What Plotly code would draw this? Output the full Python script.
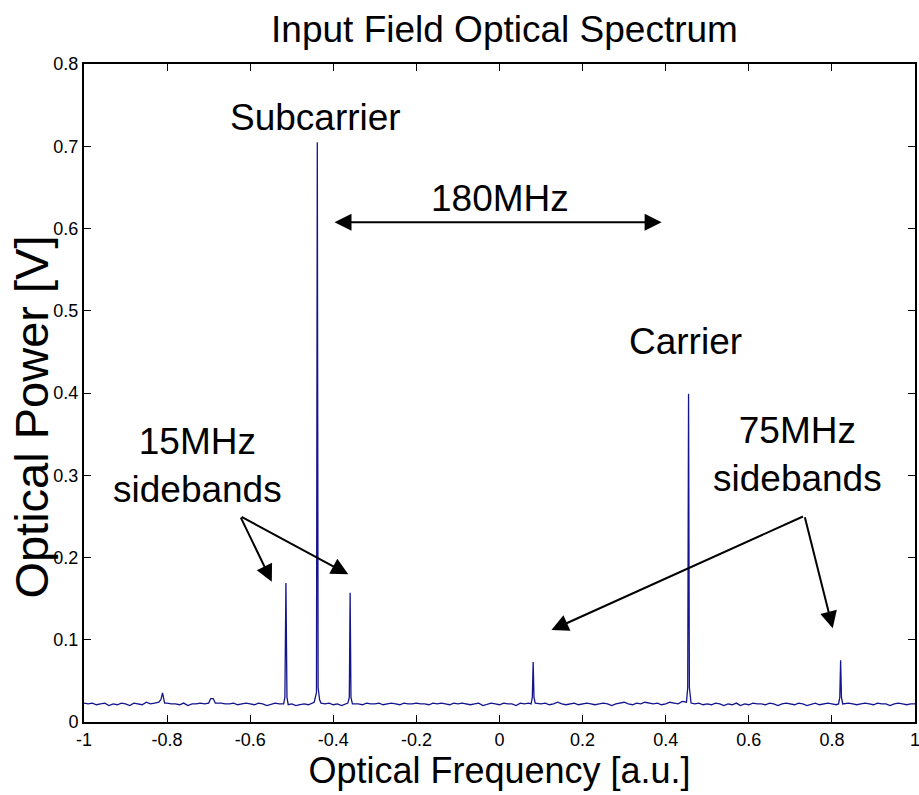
import plotly.graph_objects as go

# ---------------- data ----------------
base_freq = [
    -1.00, -0.99, -0.98, -0.97, -0.96, -0.95, -0.94, -0.93, -0.92, -0.91,
    -0.90, -0.89, -0.88, -0.87, -0.86, -0.85, -0.84, -0.83, -0.82, -0.81,
    -0.80, -0.79, -0.78, -0.77, -0.76, -0.75, -0.74, -0.73, -0.72, -0.71,
    -0.70, -0.69, -0.68, -0.67, -0.66, -0.65, -0.64, -0.63, -0.62, -0.61,
    -0.60, -0.59, -0.58, -0.57, -0.56, -0.55, -0.54, -0.53, -0.52, -0.51,
    -0.50, -0.49, -0.48, -0.47, -0.46, -0.45, -0.44, -0.43, -0.42, -0.41,
    -0.40, -0.39, -0.38, -0.37, -0.36, -0.35, -0.34, -0.33, -0.32, -0.31,
    -0.30, -0.29, -0.28, -0.27, -0.26, -0.25, -0.24, -0.23, -0.22, -0.21,
    -0.20, -0.19, -0.18, -0.17, -0.16, -0.15, -0.14, -0.13, -0.12, -0.11,
    -0.10, -0.09, -0.08, -0.07, -0.06, -0.05, -0.04, -0.03, -0.02, -0.01,
    0.00, 0.01, 0.02, 0.03, 0.04, 0.05, 0.06, 0.07, 0.08, 0.09,
    0.10, 0.11, 0.12, 0.13, 0.14, 0.15, 0.16, 0.17, 0.18, 0.19,
    0.20, 0.21, 0.22, 0.23, 0.24, 0.25, 0.26, 0.27, 0.28, 0.29,
    0.30, 0.31, 0.32, 0.33, 0.34, 0.35, 0.36, 0.37, 0.38, 0.39,
    0.40, 0.41, 0.42, 0.43, 0.44, 0.45, 0.46, 0.47, 0.48, 0.49,
    0.50, 0.51, 0.52, 0.53, 0.54, 0.55, 0.56, 0.57, 0.58, 0.59,
    0.60, 0.61, 0.62, 0.63, 0.64, 0.65, 0.66, 0.67, 0.68, 0.69,
    0.70, 0.71, 0.72, 0.73, 0.74, 0.75, 0.76, 0.77, 0.78, 0.79,
    0.80, 0.81, 0.82, 0.83, 0.84, 0.85, 0.86, 0.87, 0.88, 0.89,
    0.90, 0.91, 0.92, 0.93, 0.94, 0.95, 0.96, 0.97, 0.98, 0.99,
    1.00,
]
base_power = [
    0.023, 0.022, 0.023, 0.021, 0.022, 0.023, 0.020, 0.022, 0.021, 0.023,
    0.022, 0.020, 0.023, 0.022, 0.021, 0.024, 0.022, 0.023, 0.022, 0.026,
    0.023, 0.022, 0.022, 0.021, 0.023, 0.020, 0.022, 0.022, 0.023, 0.022,
    0.023, 0.022, 0.022, 0.023, 0.022, 0.022, 0.023, 0.021, 0.022, 0.023,
    0.022, 0.021, 0.023, 0.022, 0.020, 0.022, 0.023, 0.022, 0.023, 0.022,
    0.022, 0.020, 0.021, 0.022, 0.021, 0.023, 0.022, 0.024, 0.022, 0.023,
    0.021, 0.022, 0.020, 0.023, 0.022, 0.023, 0.022, 0.021, 0.023, 0.022,
    0.022, 0.023, 0.021, 0.022, 0.023, 0.022, 0.021, 0.023, 0.022, 0.022,
    0.023, 0.022, 0.022, 0.021, 0.023, 0.022, 0.023, 0.022, 0.021, 0.023,
    0.022, 0.023, 0.022, 0.021, 0.022, 0.023, 0.020, 0.022, 0.023, 0.022,
    0.021, 0.023, 0.022, 0.022, 0.020, 0.023, 0.022, 0.023, 0.022, 0.023,
    0.022, 0.023, 0.021, 0.022, 0.024, 0.022, 0.021, 0.022, 0.023, 0.021,
    0.022, 0.023, 0.022, 0.021, 0.022, 0.023, 0.022, 0.020, 0.022, 0.023,
    0.024, 0.022, 0.021, 0.023, 0.022, 0.024, 0.023, 0.022, 0.023, 0.021,
    0.022, 0.024, 0.023, 0.022, 0.025, 0.023, 0.024, 0.022, 0.023, 0.021,
    0.022, 0.021, 0.023, 0.022, 0.020, 0.022, 0.021, 0.023, 0.020, 0.022,
    0.021, 0.023, 0.022, 0.022, 0.021, 0.023, 0.022, 0.020, 0.022, 0.023,
    0.022, 0.021, 0.023, 0.022, 0.020, 0.022, 0.023, 0.021, 0.022, 0.023,
    0.022, 0.021, 0.023, 0.022, 0.023, 0.022, 0.021, 0.022, 0.023, 0.022,
    0.021, 0.023, 0.022, 0.022, 0.020, 0.022, 0.023, 0.022, 0.021, 0.022,
    0.022,
]

# sharp spectral lines (points around each peak)
peak_freq = [
    -0.820, -0.815, -0.811, -0.806,
    -0.700, -0.695, -0.689, -0.684,
    -0.5195, -0.5165, -0.514, -0.5115, -0.5085,
    -0.446, -0.4405, -0.4385, -0.4365, -0.433, -0.4295,
    -0.365, -0.3615, -0.3595, -0.3575, -0.354,
    0.076, 0.079, 0.081, 0.083, 0.086,
    0.450, 0.453, 0.455, 0.457, 0.461,
    0.816, 0.819, 0.821, 0.823, 0.826,
]
peak_power = [
    0.024, 0.027, 0.0355, 0.023,
    0.023, 0.0285, 0.0285, 0.023,
    0.022, 0.030, 0.169, 0.030, 0.021,
    0.024, 0.036, 0.705, 0.042, 0.027, 0.023,
    0.023, 0.030, 0.157, 0.030, 0.022,
    0.022, 0.030, 0.073, 0.030, 0.023,
    0.024, 0.042, 0.399, 0.042, 0.023,
    0.022, 0.030, 0.075, 0.030, 0.022,
]

x_tickvals = [-1, -0.8, -0.6, -0.4, -0.2, 0, 0.2, 0.4, 0.6, 0.8, 1]
x_ticktext = ["-1", "-0.8", "-0.6", "-0.4", "-0.2", "0", "0.2", "0.4", "0.6", "0.8", "1"]
y_tickvals = [0, 0.1, 0.2, 0.3, 0.4, 0.5, 0.6, 0.7, 0.8]
y_ticktext = ["0", "0.1", "0.2", "0.3", "0.4", "0.5", "0.6", "0.7", "0.8"]

# ---------------- merge baseline with peaks ----------------
pts = [(f, p) for f, p in zip(peak_freq, peak_power)]
for f, p in zip(base_freq, base_power):
    if all(abs(f - q) > 0.0055 for q in peak_freq):
        pts.append((f, p))
pts.sort(key=lambda t: t[0])
xs = [t[0] for t in pts]
ys = [t[1] for t in pts]

FONT = "Liberation Sans, Arial, Helvetica, sans-serif"

fig = go.Figure()
fig.add_trace(go.Scatter(x=xs, y=ys, mode="lines",
                         line=dict(color="#14148c", width=1.3),
                         showlegend=False, hoverinfo="skip"))

ann_font = dict(family=FONT, size=37, color="black")
annotations = [
    dict(x=-0.444, y=0.735, text="Subcarrier"),
    dict(x=0.0, y=0.637, text="180MHz"),
    dict(x=0.448, y=0.463, text="Carrier"),
    dict(x=-0.726, y=0.312, text="15MHz<br>sidebands"),
    dict(x=0.718, y=0.325, text="75MHz<br>sidebands"),
]
for a in annotations:
    fig.add_annotation(x=a["x"], y=a["y"], xref="x", yref="y", text=a["text"],
                       showarrow=False, font=ann_font, xanchor="center",
                       yanchor="middle", align="center")

# y-axis label as rotated text
fig.add_annotation(x=-0.0635, y=0.463, xref="paper", yref="paper",
                   text="Optical Power [V]", textangle=-90, showarrow=False,
                   xanchor="center", yanchor="middle",
                   font=dict(family=FONT, size=47, color="black"))

# arrows: (head_x, head_y, tail_x, tail_y, sides)
arrows = [
    (0.3902, 0.6075, -0.4007, 0.6075, "end+start"),
    (-0.548, 0.1705, -0.6243, 0.2503, "end"),
    (-0.364, 0.1795, -0.6243, 0.2503, "end"),
    (0.125, 0.1118, 0.734, 0.2507, "end"),
    (0.802, 0.1139, 0.734, 0.2507, "end"),
]
for hx, hy, tx, ty, side in arrows:
    fig.add_annotation(x=hx, y=hy, ax=tx, ay=ty, xref="x", yref="y",
                       axref="x", ayref="y", text="", showarrow=True,
                       arrowhead=2, arrowsize=1.7, arrowwidth=2,
                       arrowcolor="black", arrowside=side)

fig.update_layout(
    width=919, height=795,
    margin=dict(l=84, r=4, t=64, b=73, autoexpand=False),
    paper_bgcolor="white", plot_bgcolor="white",
    font=dict(family=FONT, color="black"),
    title=dict(text="Input Field Optical Spectrum", x=0.506, xref="paper",
               xanchor="center", y=0.9635, yanchor="middle", automargin=False,
               font=dict(family=FONT, size=37, color="black")),
    xaxis=dict(range=[-1, 1], tickvals=x_tickvals, ticktext=x_ticktext,
               ticks="inside", ticklen=7, tickwidth=1, tickcolor="black",
               showline=True, linecolor="black", linewidth=2, mirror="ticks",
               showgrid=False, zeroline=False, automargin=False,
               ticklabeloverflow="allow",
               tickfont=dict(family=FONT, size=18, color="black"),
               title=dict(text="Optical Frequency [a.u.]", standoff=7,
                          font=dict(family=FONT, size=36, color="black"))),
    yaxis=dict(range=[0, 0.8], tickvals=y_tickvals, ticktext=y_ticktext,
               ticks="inside", ticklen=7, tickwidth=1, tickcolor="black",
               showline=True, linecolor="black", linewidth=2, mirror="ticks",
               showgrid=False, zeroline=False, automargin=False,
               ticklabeloverflow="allow",
               tickfont=dict(family=FONT, size=18, color="black")),
)

fig.write_html("out.html", config={"displayModeBar": False},
               post_script="document.body.style.margin='0';"
                           "document.body.style.padding='0';"
                           "document.body.style.overflow='hidden';")
